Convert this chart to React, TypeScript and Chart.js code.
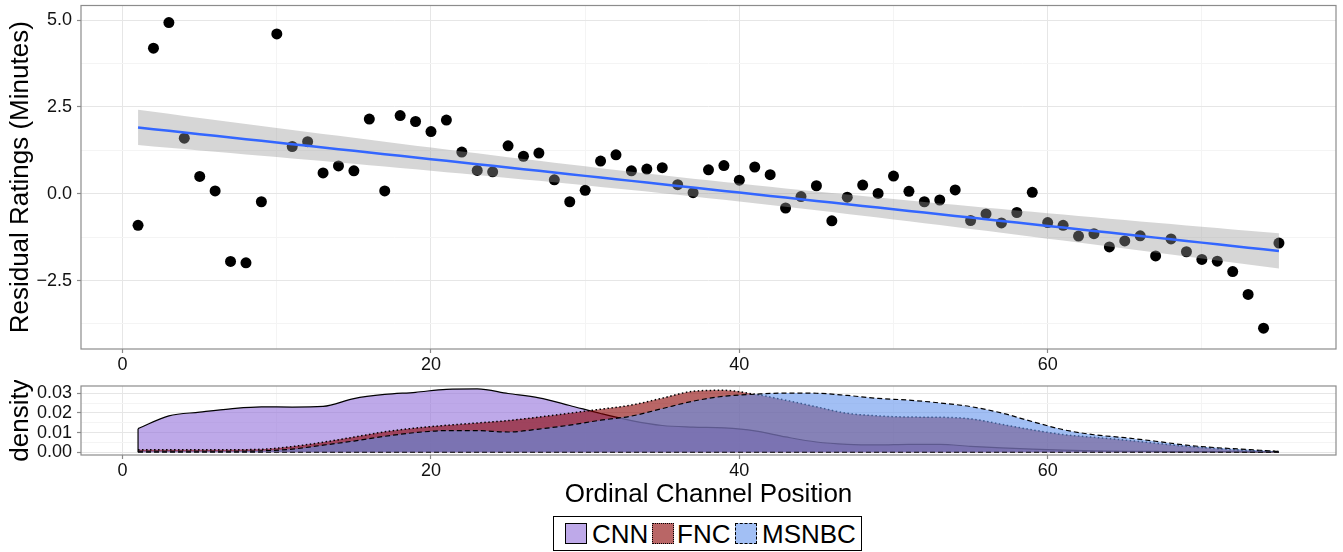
import React, { useEffect, useRef } from 'react';
import { Chart, registerables } from 'chart.js';

Chart.register(...registerables);

const FONT = '"Liberation Sans", Arial, Helvetica, sans-serif';

// ---- Scatter data: ordinal channel position vs residual ratings (minutes)
const channelPositions = [
  1, 2, 3, 4, 5, 6, 7, 8, 9, 10, 11, 12, 13, 14, 15, 16, 17, 18, 19, 20,
  21, 22, 23, 24, 25, 26, 27, 28, 29, 30, 31, 32, 33, 34, 35, 36, 37, 38, 39, 40,
  41, 42, 43, 44, 45, 46, 47, 48, 49, 50, 51, 52, 53, 54, 55, 56, 57, 58, 59, 60,
  61, 62, 63, 64, 65, 66, 67, 68, 69, 70, 71, 72, 73, 74, 75,
];
const residualRatings = [
  -0.91, 4.19, 4.93, 1.60, 0.50, 0.08, -1.95, -1.99, -0.23, 4.60,
  1.36, 1.50, 0.60, 0.80, 0.66, 2.15, 0.08, 2.25, 2.08, 1.79,
  2.12, 1.20, 0.67, 0.63, 1.38, 1.08, 1.17, 0.40, -0.23, 0.10,
  0.94, 1.12, 0.66, 0.71, 0.75, 0.26, 0.03, 0.69, 0.81, 0.39,
  0.77, 0.55, -0.41, -0.08, 0.23, -0.78, -0.10, 0.25, 0.01, 0.51,
  0.07, -0.23, -0.18, 0.11, -0.77, -0.58, -0.84, -0.54, 0.04, -0.83,
  -0.91, -1.22, -1.15, -1.53, -1.36, -1.21, -1.79, -1.30, -1.67, -1.89,
  -1.94, -2.24, -2.90, -3.87, -1.42,
];

// ---- Density data (evaluated on a grid of channel positions)
const densityX = [
  1, 3, 5, 7, 9, 11, 13, 15, 17, 19, 21, 23, 25, 27, 29, 31, 33, 35, 37,
  39, 41, 43, 45, 47, 49, 51, 53, 55, 57, 59, 61, 63, 65, 67, 69, 71, 73, 75,
];
const cnnDensity = [
  0.0120, 0.0185, 0.0204, 0.0221, 0.0231, 0.0230, 0.0233, 0.0273, 0.0294, 0.0305,
  0.0320, 0.0322, 0.0299, 0.0277, 0.0238, 0.0197, 0.0161, 0.0136, 0.0128,
  0.0124, 0.0109, 0.0078, 0.0052, 0.0040, 0.0037, 0.0040, 0.0040, 0.0030, 0.0022,
  0.0016, 0.0011, 0.0007, 0.0005, 0.0004, 0.0003, 0.0003, 0.0002, 0.0002,
];
const fncDensity = [
  0.0013, 0.0013, 0.0013, 0.0013, 0.0015, 0.0029, 0.0051, 0.0077, 0.0104, 0.0123,
  0.0137, 0.0149, 0.0161, 0.0179, 0.0199, 0.0219, 0.0240, 0.0275, 0.0310,
  0.0315, 0.0295, 0.0265, 0.0231, 0.0198, 0.0185, 0.0179, 0.0178, 0.0170, 0.0142,
  0.0114, 0.0090, 0.0076, 0.0062, 0.0046, 0.0030, 0.0018, 0.0009, 0.0004,
];
const msnbcDensity = [
  0.0005, 0.0005, 0.0005, 0.0005, 0.0007, 0.0016, 0.0036, 0.0057, 0.0081, 0.0100,
  0.0110, 0.0110, 0.0103, 0.0118, 0.0138, 0.0163, 0.0184, 0.0222, 0.0260,
  0.0285, 0.0295, 0.0301, 0.0300, 0.0289, 0.0274, 0.0265, 0.0251, 0.0232, 0.0200,
  0.0156, 0.0115, 0.0089, 0.0074, 0.0056, 0.0036, 0.0023, 0.0014, 0.0004,
];

const networks = ['CNN', 'FNC', 'MSNBC'];

// ---- Axis ticks
const xTicks = [0, 10, 20, 30, 40, 50, 60, 70];
const xTickLabels = ['0', '', '20', '', '40', '', '60', ''];
const yTicks = [-3.75, -2.5, -1.25, 0, 1.25, 2.5, 3.75, 5];
const yTickLabels = ['', '\u22122.5', '', '0.0', '', '2.5', '', '5.0'];
const densTicks = [0, 0.005, 0.01, 0.015, 0.02, 0.025, 0.03];
const densTickLabels = ['0.00', '', '0.01', '', '0.02', '', '0.03'];

// ---- Styling
const fillColors = ['rgba(147,112,219,0.6)', 'rgba(139,0,0,0.6)', 'rgba(100,149,237,0.6)'];
const legendFills = ['rgb(190,169,233)', 'rgb(185,102,102)', 'rgb(162,191,244)'];
const lineDashes: number[][] = [[], [1.5, 2.5], [5, 3]];
const legendBorders = ['solid', 'dotted', 'dashed'];
const MAJOR_GRID = '#e6e6e6';
const MINOR_GRID = '#f4f4f4';
const TICK_COLOR = '#8a8a8a';

// Linear-model fit with 95% confidence band (as geom_smooth(method = "lm"))
function linearFit(xs: number[], ys: number[]) {
  const n = xs.length;
  const mx = xs.reduce((a, b) => a + b, 0) / n;
  const my = ys.reduce((a, b) => a + b, 0) / n;
  let sxx = 0;
  let sxy = 0;
  for (let i = 0; i < n; i++) {
    sxx += (xs[i] - mx) ** 2;
    sxy += (xs[i] - mx) * (ys[i] - my);
  }
  const slope = sxy / sxx;
  const intercept = my - slope * mx;
  let sse = 0;
  for (let i = 0; i < n; i++) sse += (ys[i] - intercept - slope * xs[i]) ** 2;
  const s = Math.sqrt(sse / (n - 2));
  const tCrit = 1.993; // t(0.975, df = 73)
  const fit = xs.map((x) => ({ x, y: intercept + slope * x }));
  const half = xs.map((x) => tCrit * s * Math.sqrt(1 / n + (x - mx) ** 2 / sxx));
  return {
    fit,
    upper: fit.map((p, i) => ({ x: p.x, y: p.y + half[i] })),
    lower: fit.map((p, i) => ({ x: p.x, y: p.y - half[i] })),
  };
}

const panelBorder = {
  id: 'panelBorder',
  afterDatasetsDraw(chart: any) {
    const { ctx, chartArea } = chart;
    ctx.save();
    ctx.strokeStyle = '#8c8c8c';
    ctx.lineWidth = 1.2;
    ctx.strokeRect(chartArea.left, chartArea.top, chartArea.right - chartArea.left, chartArea.bottom - chartArea.top);
    ctx.restore();
  },
};

function makeScale(opts: {
  ticks: number[];
  labels: string[];
  majorTest: (i: number) => boolean;
  min: number;
  max: number;
  axis: 'x' | 'y';
  size: number;
  title?: string;
}) {
  const { ticks, labels, majorTest, min, max, axis, size, title } = opts;
  return {
    type: 'linear',
    min,
    max,
    afterBuildTicks: (s: any) => {
      s.ticks = ticks.map((v) => ({ value: v }));
    },
    afterFit: (s: any) => {
      if (axis === 'x') s.height = size;
      else s.width = size;
      s.paddingTop = 0;
      s.paddingBottom = 0;
      s.paddingLeft = 0;
      s.paddingRight = 0;
    },
    border: { display: false },
    grid: {
      drawTicks: true,
      tickLength: 4,
      lineWidth: 1,
      color: (c: any) => (majorTest(c.index) ? MAJOR_GRID : MINOR_GRID),
      tickColor: (c: any) => (majorTest(c.index) ? TICK_COLOR : 'rgba(0,0,0,0)'),
      tickWidth: 1.2,
    },
    ticks: {
      autoSkip: false,
      maxRotation: 0,
      minRotation: 0,
      padding: axis === 'x' ? 1 : 5,
      color: '#111',
      font: { family: FONT, size: 18 },
      callback: (_v: any, i: number) => labels[i],
    },
    title: title
      ? {
          display: true,
          text: title,
          color: '#000',
          font: { family: FONT, size: 26 },
          padding: axis === 'x' ? { top: 0, bottom: 0 } : { top: 5, bottom: 0 },
        }
      : { display: false },
  };
}

export default function App() {
  const topRef = useRef<HTMLCanvasElement | null>(null);
  const bottomRef = useRef<HTMLCanvasElement | null>(null);

  useEffect(() => {
    const points = channelPositions.map((x, i) => ({ x, y: residualRatings[i] }));
    const lm = linearFit(channelPositions, residualRatings);
    const xMajor = (i: number) => xTickLabels[i] !== '';

    const top = new Chart(topRef.current as HTMLCanvasElement, {
      type: 'line',
      data: {
        datasets: [
          {
            label: 'fit',
            data: lm.fit,
            borderColor: '#3366FF',
            borderWidth: 2.5,
            pointRadius: 0,
            fill: false,
            order: 0,
          },
          {
            label: 'upper',
            data: lm.upper,
            borderWidth: 0,
            borderColor: 'rgba(0,0,0,0)',
            pointRadius: 0,
            fill: '+1',
            backgroundColor: 'rgba(153,153,153,0.4)',
            order: 1,
          },
          {
            label: 'lower',
            data: lm.lower,
            borderWidth: 0,
            borderColor: 'rgba(0,0,0,0)',
            pointRadius: 0,
            fill: false,
            order: 2,
          },
          {
            label: 'points',
            data: points,
            showLine: false,
            pointRadius: 5.5,
            pointBackgroundColor: '#000',
            pointBorderColor: '#000',
            pointBorderWidth: 0,
            order: 3,
          },
        ],
      },
      options: {
        animation: false,
        responsive: false,
        devicePixelRatio: 1,
        events: [],
        layout: { padding: { top: 3, right: 7, left: 0, bottom: 0 } },
        plugins: { legend: { display: false }, tooltip: { enabled: false } },
        scales: {
          x: makeScale({ ticks: xTicks, labels: xTickLabels, majorTest: xMajor, min: -2.7, max: 78.7, axis: 'x', size: 31 }) as any,
          y: makeScale({
            ticks: yTicks,
            labels: yTickLabels,
            majorTest: (i) => yTickLabels[i] !== '',
            min: -4.47,
            max: 5.42,
            axis: 'y',
            size: 81,
            title: 'Residual Ratings (Minutes)',
          }) as any,
        },
      },
      plugins: [panelBorder],
    });

    const densSeries = [cnnDensity, fncDensity, msnbcDensity];
    const densDatasets: any[] = densSeries.map((vals, k) => ({
      label: networks[k],
      data: densityX.map((x, i) => ({ x, y: vals[i] })),
      backgroundColor: fillColors[k],
      borderColor: '#000',
      borderWidth: k === 1 ? 1.5 : 1.2,
      borderDash: lineDashes[k],
      pointRadius: 0,
      fill: 'origin',
      cubicInterpolationMode: 'monotone',
      order: 3 - k,
    }));
    densDatasets.push({
      label: 'cnnEdge',
      data: [
        { x: densityX[0], y: 0 },
        { x: densityX[0], y: cnnDensity[0] },
      ],
      borderColor: '#000',
      borderWidth: 1.2,
      pointRadius: 0,
      fill: false,
      order: 0,
    });
    densDatasets.push({
      label: 'baseline',
      data: [
        { x: densityX[0], y: 0 },
        { x: densityX[densityX.length - 1], y: 0 },
      ],
      borderColor: '#000',
      borderWidth: 1.2,
      borderDash: [5, 3],
      pointRadius: 0,
      fill: false,
      order: 0,
    });

    const bottom = new Chart(bottomRef.current as HTMLCanvasElement, {
      type: 'line',
      data: { datasets: densDatasets },
      options: {
        animation: false,
        responsive: false,
        devicePixelRatio: 1,
        events: [],
        layout: { padding: { top: 6, right: 7, left: 0, bottom: 0 } },
        plugins: { legend: { display: false }, tooltip: { enabled: false } },
        scales: {
          x: makeScale({
            ticks: xTicks,
            labels: xTickLabels,
            majorTest: xMajor,
            min: -2.7,
            max: 78.7,
            axis: 'x',
            size: 55,
            title: 'Ordinal Channel Position',
          }) as any,
          y: makeScale({
            ticks: densTicks,
            labels: densTickLabels,
            majorTest: (i) => densTickLabels[i] !== '',
            min: -0.0014,
            max: 0.0337,
            axis: 'y',
            size: 81,
            title: 'density',
          }) as any,
        },
      },
      plugins: [panelBorder],
    });

    return () => {
      top.destroy();
      bottom.destroy();
    };
  }, []);

  const keyLeft = [565, 652, 735];
  const textLeft = [592, 677, 762];

  return (
    <div style={{ position: 'absolute', left: 0, top: 0, width: 1343, height: 552, background: '#fff', fontFamily: FONT }}>
      <canvas ref={topRef} width={1343} height={380} style={{ position: 'absolute', left: 0, top: 0, display: 'block' }} />
      <canvas ref={bottomRef} width={1343} height={130} style={{ position: 'absolute', left: 0, top: 380, display: 'block' }} />
      <div
        style={{
          position: 'absolute',
          left: 553,
          top: 516,
          width: 309,
          height: 35,
          border: '1px solid #000',
          boxSizing: 'border-box',
        }}
      />
      {networks.map((name, k) => (
        <React.Fragment key={name}>
          <div
            style={{
              position: 'absolute',
              left: keyLeft[k],
              top: 523,
              width: 22,
              height: 21,
              boxSizing: 'border-box',
              background: legendFills[k],
              border: `1.5px ${legendBorders[k]} #000`,
            }}
          />
          <div
            style={{
              position: 'absolute',
              left: textLeft[k],
              top: 521,
              height: 26,
              lineHeight: '26px',
              fontSize: 26,
              color: '#000',
              whiteSpace: 'nowrap',
            }}
          >
            {name}
          </div>
        </React.Fragment>
      ))}
    </div>
  );
}
